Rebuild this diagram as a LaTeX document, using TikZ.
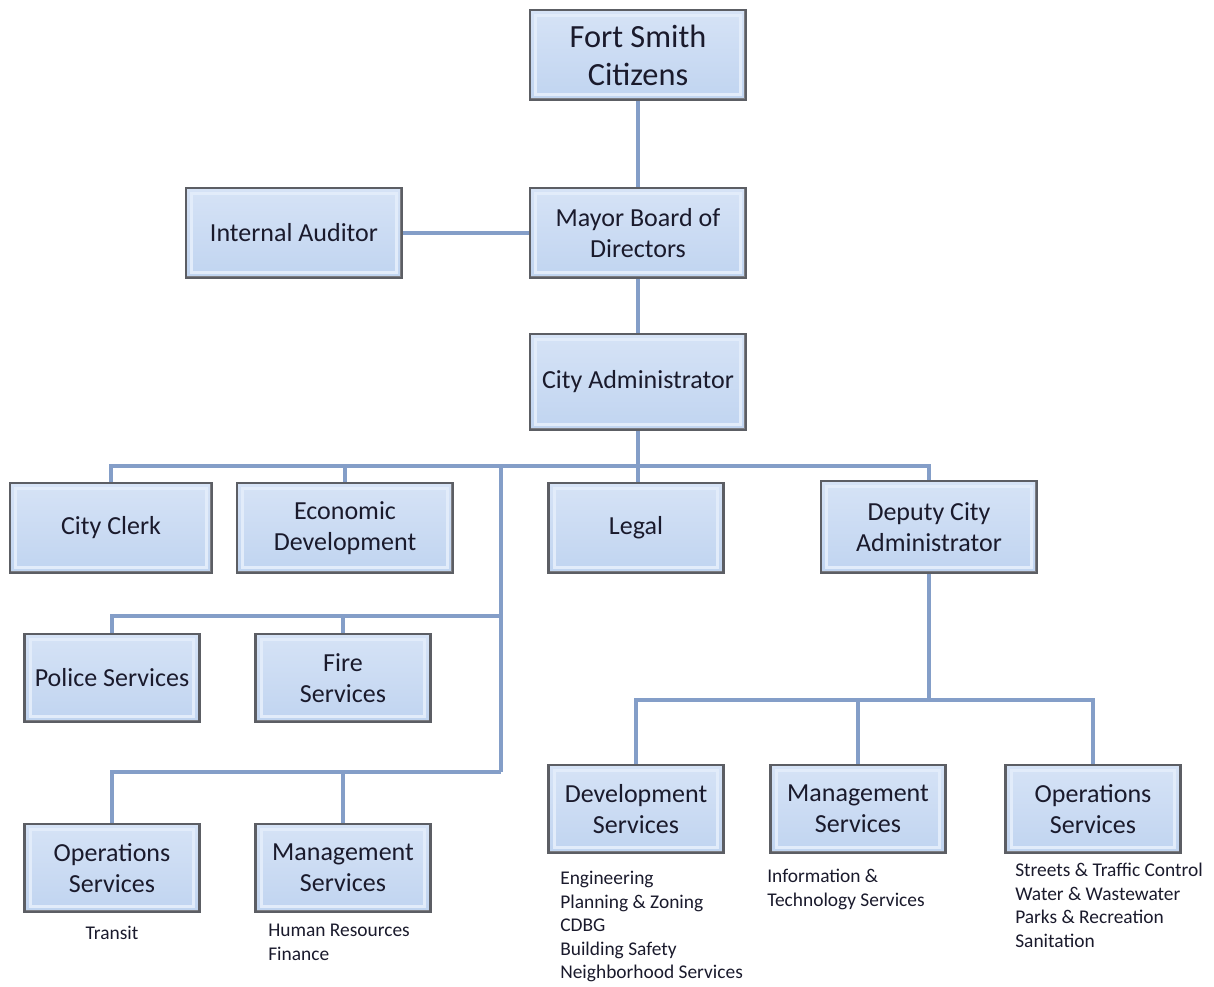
\documentclass[tikz,border=0pt]{standalone}
\usepackage{fontspec}
\setmainfont{Carlito}
\usetikzlibrary{calc}
\definecolor{boxblue}{RGB}{192,212,240}
\definecolor{boxtop}{RGB}{214,227,246}
\definecolor{boxlight}{RGB}{226,236,250}
\definecolor{edgegray}{RGB}{92,94,100}
\definecolor{linkblue}{RGB}{132,158,200}
\definecolor{txtdark}{RGB}{26,26,44}
\tikzset{
  unit/.style={draw=edgegray, line width=1.6pt, top color=boxtop, bottom color=boxblue,
    text=txtdark, align=center, inner sep=0pt, font=\fontsize{18.5}{22}\selectfont,
    path picture={\draw[boxlight, line width=2pt]
      ($(path picture bounding box.north west)+(4pt,-4pt)$) rectangle
      ($(path picture bounding box.south east)+(-4pt,4pt)$);
      \draw[edgegray!80, line width=2.6pt]
      (path picture bounding box.north east) -- (path picture bounding box.south east)
      -- (path picture bounding box.south west);}},
  wide/.style={unit, minimum width=5.4cm, minimum height=2.25cm},
  narrow/.style={unit, minimum width=4.37cm, minimum height=2.2cm},
  link/.style={draw=linkblue, line width=2.6pt},
  duties/.style={text=txtdark, align=left, anchor=north west, inner sep=0pt,
    font=\fontsize{13.8}{16.7}\selectfont}
}
\begin{document}
\begin{tikzpicture}[x=0.025cm,y=-0.025cm]
      \useasboundingbox (0,0) rectangle (1214,986);
      \node[wide, font=\fontsize{23}{27}\selectfont] (citizens) at (638,55) {Fort Smith\\Citizens};
      \node[wide] (mayor) at (638,233) {Mayor Board of\\Directors};
      \node[wide] (auditor) at (294,233) {Internal Auditor};
      \node[wide, minimum height=2.4cm] (admin) at (638,382) {City Administrator};
      \node[wide, minimum width=5.05cm] (clerk) at (111,528) {City Clerk};
      \node[wide] (econ) at (345,528) {Economic\\Development};
      \node[narrow, minimum height=2.25cm] (legal) at (636,528) {Legal};
      \node[wide, minimum height=2.3cm] (deputy) at (929,527) {Deputy City\\Administrator};
      \node[narrow] (police) at (112,678) {Police Services};
      \node[narrow] (fire) at (343,678) {Fire\\Services};
      \node[narrow] (opsleft) at (112,868) {Operations\\Services};
      \node[narrow] (mgmtleft) at (343,868) {Management\\Services};
      \node[narrow] (devsvc) at (636,809) {Development\\Services};
      \node[narrow] (mgmtright) at (858,809) {Management\\Services};
      \node[narrow] (opsright) at (1093,809) {Operations\\Services};
      \coordinate (bus) at (638,466);
      \coordinate (split) at (501,466);
      \coordinate (forkA) at (501,616);
      \coordinate (forkB) at (501,772);
      \coordinate (depbus) at (929,700);
      \draw[link] (citizens) -- (mayor);
      \draw[link] (auditor) -- (mayor);
      \draw[link] (mayor) -- (admin);
      \draw[link] (admin.south) -- (admin.south |- legal.north);
      \draw[link] (clerk.north) |- (bus);
      \draw[link] (econ.north) |- (bus);
      \draw[link] (deputy.north) |- (bus);
      \draw[link] (split) -- (forkB);
      \draw[link] (police.north) |- (forkA);
      \draw[link] (fire.north) |- (forkA);
      \draw[link] (opsleft.north) |- (forkB);
      \draw[link] (mgmtleft.north) |- (forkB);
      \draw[link] (deputy) -- (depbus);
      \draw[link] (devsvc.north) |- (depbus);
      \draw[link] (mgmtright) -- (mgmtright.north |- depbus);
      \draw[link] (opsright.north) |- (depbus);
      \node[duties, anchor=north] (transit) at (112,926) {Transit};
      \node[duties] (mgmtleftlist) at (268,924) {Human Resources\\Finance};
      \node[duties] (devlist) at (560,871) {Engineering\\Planning \& Zoning\\CDBG\\Building Safety\\Neighborhood Services};
      \node[duties] (mgmtrightlist) at (767,869) {Information \&\\Technology Services};
      \node[duties] (opsrightlist) at (1015,863) {Streets \& Traffic Control\\Water \& Wastewater\\Parks \& Recreation\\Sanitation};
\end{tikzpicture}
\end{document}
